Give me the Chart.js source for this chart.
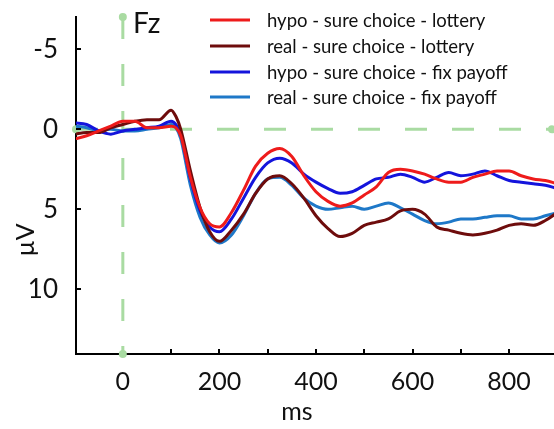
<!DOCTYPE html>
<html>
<head>
<meta charset="utf-8">
<script src="https://cdn.jsdelivr.net/npm/chart.js@4"></script>
<style>
	html, body { margin: 0; padding: 0; background: #fff; }
	#wrap { width: 554px; height: 429px; position: relative; }
</style>
</head>
<body>
<div id="wrap"><canvas id="erp_chart"></canvas></div>
<script>

// time axis (ms)
const timesMs = [-100, -75, -50, -25, 0, 25, 50, 75, 100, 110, 120, 140, 160, 180, 200, 225, 250, 275, 300, 325, 350, 375, 400, 425, 450, 475, 500, 525, 550, 575, 600, 625, 650, 675, 700, 725, 750, 775, 800, 825, 850, 875, 900];

// amplitude (µV)
const hypoLottery = [0.6, 0.4, 0.1, -0.2, -0.5, -0.5, -0.1, -0.1, -0.2, -0.1, 0.4, 3.0, 4.9, 5.9, 6.1, 5.2, 3.8, 2.3, 1.5, 1.2, 1.7, 2.9, 3.9, 4.5, 4.8, 4.6, 4.1, 3.6, 2.7, 2.5, 2.6, 2.8, 3.1, 3.3, 3.3, 3.0, 2.8, 2.6, 2.6, 2.9, 3.1, 3.2, 3.4];
const realLottery = [0.3, 0.2, 0.2, -0.1, -0.3, -0.5, -0.6, -0.6, -1.2, -0.8, 0.0, 2.6, 4.9, 6.4, 7.0, 6.3, 5.3, 4.0, 3.1, 2.9, 3.4, 4.3, 5.4, 6.2, 6.7, 6.5, 6.0, 5.8, 5.6, 5.1, 5.0, 5.3, 6.1, 6.3, 6.5, 6.6, 6.5, 6.3, 6.0, 5.9, 6.0, 5.7, 5.2];
const hypoFix = [-0.4, -0.3, 0.1, 0.3, 0.1, 0.0, -0.1, -0.2, -0.5, -0.3, 0.3, 3.1, 5.1, 6.1, 6.4, 5.6, 4.3, 3.0, 2.1, 1.8, 2.1, 2.8, 3.3, 3.7, 4.0, 3.9, 3.5, 3.1, 3.0, 2.8, 3.0, 3.3, 3.0, 2.7, 2.9, 2.8, 2.6, 2.9, 3.2, 3.3, 3.4, 3.5, 3.7];
const realFix = [-0.2, -0.1, 0.1, 0.0, 0.1, 0.1, 0.0, -0.1, -0.3, -0.1, 0.6, 3.5, 5.5, 6.6, 7.1, 6.6, 5.4, 4.0, 3.1, 3.0, 3.5, 4.3, 4.8, 5.0, 4.9, 4.8, 5.0, 4.8, 4.6, 4.9, 5.3, 5.7, 5.9, 5.8, 5.6, 5.6, 5.5, 5.4, 5.4, 5.6, 5.6, 5.4, 5.2];

const seriesLabels = ['hypo - sure choice - lottery', 'real - sure choice - lottery', 'hypo - sure choice - fix payoff', 'real - sure choice - fix payoff'];
const seriesColors = ['#ee1b1b', '#6e0c0c', '#1414dc', '#1e78c8'];

const xTicks = [0, 100, 200, 300, 400, 500, 600, 700, 800];
const yTicks = [-5, 0, 5, 10];

const FONT = 'Lato, "Open Sans", sans-serif';
const GREEN = '#a9dba2';

function toPoints(values) {
	return values.map((v, i) => ({ x: timesMs[i], y: v }));
}

// green zero lines, inward ticks, Fz, axis titles, legend
const decorations = {
	id: 'decorations',
	beforeDatasetsDraw(chart) {
		const ctx = chart.ctx;
		const xs = chart.scales.x;
		const ys = chart.scales.y;
		const area = chart.chartArea;
		const x0 = xs.getPixelForValue(0);
		const y0 = ys.getPixelForValue(0);

		ctx.save();
		ctx.strokeStyle = GREEN;
		ctx.fillStyle = GREEN;
		ctx.lineWidth = 3;
		ctx.setLineDash([22, 25]);
		ctx.beginPath();
		ctx.moveTo(area.left, y0);
		ctx.lineTo(area.right, y0);
		ctx.stroke();
		ctx.beginPath();
		ctx.moveTo(x0, area.top);
		ctx.lineTo(x0, area.bottom);
		ctx.stroke();
		ctx.setLineDash([]);
		[[area.left, y0], [area.right - 2, y0], [x0, area.top], [x0, area.bottom]].forEach(p => {
			ctx.beginPath();
			ctx.arc(p[0], p[1], 4, 0, Math.PI * 2);
			ctx.fill();
		});
		ctx.restore();
	},
	afterDraw(chart) {
		const ctx = chart.ctx;
		const xs = chart.scales.x;
		const ys = chart.scales.y;
		const area = chart.chartArea;

		ctx.save();
		ctx.strokeStyle = '#000';
		ctx.lineWidth = 2;
		xTicks.forEach(t => {
			const px = Math.round(xs.getPixelForValue(t));
			if (t === 0) return;
			ctx.beginPath();
			ctx.moveTo(px, area.bottom);
			ctx.lineTo(px, area.bottom - 5);
			ctx.stroke();
		});
		yTicks.forEach(t => {
			const py = Math.round(ys.getPixelForValue(t));
			ctx.beginPath();
			ctx.moveTo(area.left, py);
			ctx.lineTo(area.left + 5, py);
			ctx.stroke();
		});

		ctx.fillStyle = '#111';
		ctx.font = '28px ' + FONT;
		ctx.textAlign = 'left';
		ctx.textBaseline = 'alphabetic';
		ctx.fillText('Fz', 133, 33);

		ctx.font = '25px ' + FONT;
		ctx.textAlign = 'center';
		ctx.fillText('ms', 297, 420);

		ctx.save();
		ctx.translate(34, 240);
		ctx.rotate(-Math.PI / 2);
		ctx.fillText('µV', 0, 0);
		ctx.restore();

		// legend
		const rows = [20, 46, 72, 97];
		ctx.font = '18.5px ' + FONT;
		ctx.textAlign = 'left';
		ctx.textBaseline = 'middle';
		chart.data.datasets.forEach((ds, i) => {
			ctx.strokeStyle = ds.borderColor;
			ctx.lineWidth = 3;
			ctx.beginPath();
			ctx.moveTo(210, rows[i]);
			ctx.lineTo(250, rows[i]);
			ctx.stroke();
			ctx.fillStyle = '#111';
			ctx.fillText(ds.label, 267, rows[i] + 1);
		});
		ctx.restore();
	}
};

const datasets = [hypoLottery, realLottery, hypoFix, realFix].map((vals, i) => ({
	label: seriesLabels[i],
	data: toPoints(vals),
	borderColor: seriesColors[i],
	borderWidth: 3,
	pointRadius: 0,
	fill: false,
	cubicInterpolationMode: 'monotone'
}));

const ctx = document.getElementById('erp_chart').getContext('2d');
const myChart = new Chart(ctx, {
	type: 'line',
	data: { datasets: datasets },
	options: {
		responsive: true,
		maintainAspectRatio: false,
		animation: false,
		layout: { padding: { top: 17, right: 0, left: 0, bottom: 0 } },
		plugins: {
			legend: { display: false },
			tooltip: { enabled: false }
		},
		scales: {
			x: {
				type: 'linear',
				min: -97,
				max: 893,
				afterBuildTicks: scale => { scale.ticks = xTicks.map(v => ({ value: v })); },
				afterFit: scale => {
					scale.height = 75;
					scale.paddingLeft = 0;
					scale.paddingRight = 0;
				},
				grid: { display: false, drawTicks: false },
				border: { color: '#000', width: 2 },
				ticks: {
					color: '#111',
					font: { family: FONT, size: 25 },
					padding: 13,
					maxRotation: 0,
					autoSkip: false,
					callback: v => (v % 200 === 0 ? v : '')
				}
			},
			y: {
				reverse: true,
				min: -7.02,
				max: 14.04,
				afterBuildTicks: scale => { scale.ticks = yTicks.map(v => ({ value: v })); },
				afterFit: scale => {
					scale.width = 76;
					scale.paddingTop = 0;
					scale.paddingBottom = 0;
				},
				grid: { display: false, drawTicks: false },
				border: { color: '#000', width: 2 },
				ticks: {
					color: '#111',
					font: { family: FONT, size: 26 },
					padding: 18
				}
			}
		}
	},
	plugins: [decorations]
});
</script>
</body>
</html>
